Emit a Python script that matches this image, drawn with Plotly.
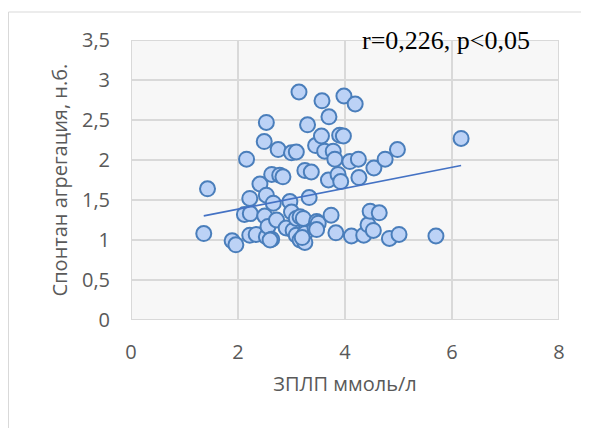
import plotly.graph_objects as go
import numpy as np

# Data
zpl = [1.36, 1.43, 1.89, 1.96, 2.16, 2.12, 2.23, 2.22, 2.22, 2.34,
       2.41, 2.49, 2.53, 2.53, 2.50, 2.53, 2.56, 2.63, 2.63, 2.66,
       2.72, 2.75, 2.78, 2.84, 2.90, 2.97, 3.00, 3.00, 3.03, 3.09,
       3.09, 3.09, 3.14, 3.16, 3.16, 3.22, 3.25, 3.25, 3.25, 3.30,
       3.33, 3.37, 3.44, 3.47, 3.50, 3.47, 3.45, 3.56, 3.57, 3.62,
       3.69, 3.70, 3.74, 3.78, 3.81, 3.83, 3.87, 3.90, 3.92, 3.97,
       3.98, 4.09, 4.12, 4.19, 4.25, 4.26, 4.35, 4.43, 4.47, 4.53,
       4.54, 4.64, 4.75, 4.83, 4.98, 5.01, 5.70, 6.17, 2.60, 3.20]
aggr = [1.08, 1.64, 0.99, 0.94, 2.01, 1.32, 1.33, 1.52, 1.06, 1.07,
        1.70, 2.23, 2.47, 1.56, 1.30, 1.04, 1.17, 1.01, 1.82, 1.46,
        1.25, 2.13, 1.81, 1.79, 1.15, 1.48, 2.09, 1.35, 1.12, 2.10,
        1.27, 1.06, 2.85, 1.29, 1.00, 1.27, 1.08, 0.97, 1.87, 2.44,
        1.53, 1.85, 1.15, 1.23, 1.21, 1.13, 2.18, 2.30, 2.74, 2.11,
        1.75, 2.54, 1.31, 2.11, 2.01, 1.09, 1.82, 2.31, 1.73, 2.30,
        2.80, 1.98, 1.05, 2.70, 2.01, 1.78, 1.06, 1.19, 1.36, 1.12,
        1.90, 1.34, 2.01, 1.02, 2.13, 1.07, 1.05, 2.27, 1.00, 1.03]

# Linear trend
trend_slope = 0.131
trend_intercept = 1.123

x_ticks = [0, 2, 4, 6, 8]
y_ticks = [0, 0.5, 1, 1.5, 2, 2.5, 3, 3.5]

tx = np.array([min(zpl), max(zpl)])
ty = trend_intercept + trend_slope * tx

fig = go.Figure()
fig.add_trace(go.Scatter(
    x=zpl, y=aggr, mode="markers",
    marker=dict(size=15, color="#bcd2f6",
                line=dict(color="#4a7ebb", width=2)),
    showlegend=False, hoverinfo="x+y"))
fig.add_trace(go.Scatter(
    x=tx, y=ty, mode="lines",
    line=dict(color="#4472c4", width=1.6),
    showlegend=False, hoverinfo="skip"))

font_ticks = dict(family="Open Sans, Noto Sans, sans-serif", size=20, color="#595959")

L, T, PW, PH = 123, 32, 428, 280
W, H = 589, 428

fig.update_layout(
    width=W, height=H,
    margin=dict(l=L, r=W - L - PW, t=T, b=H - T - PH),
    paper_bgcolor="white",
    plot_bgcolor="#f7f7f7",
    separators=", ",
    xaxis=dict(range=[0, 8], tickvals=x_ticks, showgrid=True,
               gridcolor="#d9d9d9", gridwidth=1.5, zeroline=False,
               showline=False, tickfont=font_ticks, ticks="",
               ticklabelstandoff=18,
               title=dict(text="ЗПЛП ммоль/л", font=font_ticks, standoff=12)),
    yaxis=dict(range=[0, 3.5], tickvals=y_ticks, showgrid=True,
               gridcolor="#d9d9d9", gridwidth=1.5, zeroline=False,
               showline=False, tickfont=font_ticks, ticks="",
               ticklabelstandoff=20,
               title=dict(text="Спонтан агрегация, н.б.", font=font_ticks, standoff=8)),
    annotations=[dict(
        text="r=0,226, p<0,05", x=7.5, xref="x", xanchor="right",
        y=3.5, yref="y", yanchor="middle", showarrow=False,
        font=dict(family="Liberation Serif, Times New Roman, serif", size=26, color="black"))],
    shapes=[
        dict(type="line", xref="paper", yref="paper",
             x0=(0.5 - L) / PW, x1=(0.5 - L) / PW, y0=-0.5, y1=1 + (T - 4) / PH,
             line=dict(color="#d9d9d9", width=1)),
        dict(type="line", xref="paper", yref="paper",
             x0=(0.5 - L) / PW, x1=1.3, y0=1 + (T - 4) / PH, y1=1 + (T - 4) / PH,
             line=dict(color="#d9d9d9", width=1)),
        dict(type="rect", xref="x", yref="y", x0=0, x1=8, y0=0, y1=3.5,
             line=dict(color="#d9d9d9", width=2), fillcolor="rgba(0,0,0,0)", layer="below"),
    ],
)

fig.write_html("out.html")
